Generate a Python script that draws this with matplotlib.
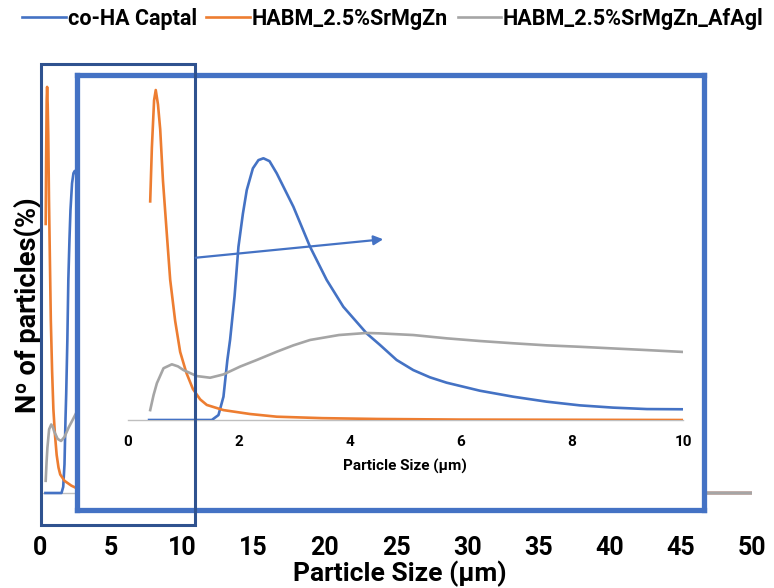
import matplotlib.pyplot as plt
from matplotlib.patches import Rectangle, FancyArrowPatch

# Particle size distributions (number %), size in µm
blue_x = [0.38, 1.0, 1.51, 1.63, 1.72, 1.79, 1.84, 1.92, 1.99, 2.07, 2.14, 2.25, 2.35, 2.44,
          2.55, 2.68, 2.98, 3.28, 3.58, 3.88, 4.30, 4.54, 4.84, 5.14, 5.44, 5.74, 6.34,
          6.94, 7.54, 8.14, 8.74, 9.35, 10.0, 15.0, 20.0, 30.0, 50.0]
blue_y = [0.0, 0.0, 0.0, 0.24, 1.13, 2.9, 3.9, 6.0, 8.4, 10.0, 11.15, 12.2, 12.6, 12.69,
          12.55, 11.96, 10.34, 8.40, 6.79, 5.49, 4.20, 3.64, 2.91, 2.42, 2.07, 1.81, 1.42,
          1.13, 0.89, 0.71, 0.60, 0.53, 0.52, 0.2, 0.05, 0.0, 0.0]

orange_x = [0.40, 0.43, 0.47, 0.50, 0.54, 0.58, 0.63, 0.70, 0.76, 0.85, 0.94, 1.05, 1.17,
            1.30, 1.42, 1.72, 2.2, 2.68, 3.5, 4.5, 6.0, 8.0, 10.0, 20.0, 50.0]
orange_y = [10.6, 13.2, 15.5, 16.0, 15.3, 14.1, 11.6, 9.0, 6.8, 4.8, 3.3, 2.3, 1.5,
            1.0, 0.73, 0.48, 0.29, 0.16, 0.09, 0.05, 0.02, 0.01, 0.0, 0.0, 0.0]

gray_x = [0.40, 0.46, 0.52, 0.64, 0.79, 0.90, 1.00, 1.24, 1.48, 1.72, 2.02, 2.32, 2.68,
          2.98, 3.28, 3.8, 4.3, 4.54, 5.14, 5.74, 6.34, 6.94, 7.54, 8.14, 8.74, 9.35, 10.0,
          15.0, 25.0, 35.0, 45.0, 50.0]
gray_y = [0.48, 1.2, 1.78, 2.51, 2.70, 2.6, 2.42, 2.13, 2.05, 2.21, 2.59, 2.91, 3.31,
          3.62, 3.88, 4.12, 4.22, 4.20, 4.12, 3.96, 3.83, 3.72, 3.62, 3.55, 3.47, 3.39, 3.30,
          2.5, 1.2, 0.4, 0.0, 0.0]

series = [
    ("co-HA Captal", blue_x, blue_y, "#4472C4"),
    ("HABM_2.5%SrMgZn", orange_x, orange_y, "#ED7D31"),
    ("HABM_2.5%SrMgZn_AfAgl", gray_x, gray_y, "#A5A5A5"),
]

main_ticks = [0, 5, 10, 15, 20, 25, 30, 35, 40, 45, 50]
inset_ticks = [0, 2, 4, 6, 8, 10]

font = ["Roboto", "DejaVu Sans"]
W, H = 774, 588


def fx(px):
    return px / W


def fy(py):
    return 1 - py / H


fig = plt.figure(figsize=(W / 100, H / 100), dpi=100)

# main chart
ax = fig.add_axes([fx(40), fy(530), fx(752) - fx(40), fy(60) - fy(530)])
for name, x, y, c in series:
    ax.plot(x, y, color=c, lw=1.9, label=name)
ax.axhline(0, color="#BFBFBF", lw=1, zorder=0)
ax.set_xlim(0, 50)
ax.set_ylim(-1.458, 17.06)
ax.set_xticks(main_ticks)
ax.set_xticklabels([str(t) for t in main_ticks], family=font, fontweight="bold", fontsize=18)
ax.tick_params(axis="x", length=0, pad=4)
ax.set_yticks([])
for s in ax.spines.values():
    s.set_visible(False)

fig.text(fx(400), fy(574), "Particle Size (µm)", ha="center", va="center",
         family=font, fontweight="bold", fontsize=19)
fig.text(fx(28), fy(305), "Nº of particles(%)", ha="center", va="center", rotation=90,
         family=font, fontweight="bold", fontsize=19.5)

fig.legend(loc="upper left", bbox_to_anchor=(0.004, 1.02), ncol=3, frameon=False,
           prop={"family": font, "weight": "bold", "size": 15.5},
           handlelength=2.0, handletextpad=0.1, columnspacing=0.45)

# framed zoom of the 0-10 µm range
frame = fig.add_axes([fx(77), fy(510), fx(704) - fx(77), fy(75) - fy(510)])
frame.set_xticks([])
frame.set_yticks([])
frame.set_facecolor("white")
for s in frame.spines.values():
    s.set_color("#4472C4")
    s.set_linewidth(3.8)

ins = fig.add_axes([fx(128), fy(420), fx(683) - fx(128), fy(79.7) - fy(420)])
ins.patch.set_alpha(0)
for name, x, y, c in series:
    ins.plot(x, y, color=c, lw=1.9)
ins.set_xlim(0, 10)
ins.set_ylim(0, 16.5)
ins.set_xticks(inset_ticks)
ins.set_xticklabels([str(t) for t in inset_ticks], family=font, fontweight="bold", fontsize=11)
ins.tick_params(axis="x", length=0, pad=11)
ins.set_yticks([])
for k, s in ins.spines.items():
    s.set_visible(k == "bottom")
ins.spines["bottom"].set_color("#BFBFBF")
ins.spines["bottom"].set_linewidth(1)
ins.spines["bottom"].set_zorder(0)
fig.text(fx(405), fy(466), "Particle Size (µm)", ha="center", va="center",
         family=font, fontweight="bold", fontsize=11)

# selection box and pointer
box = Rectangle((fx(41), fy(525)), fx(195) - fx(41), fy(64) - fy(525), transform=fig.transFigure,
                fill=False, edgecolor="#2F528F", lw=2.2, zorder=10)
fig.add_artist(box)
arrow = FancyArrowPatch((fx(193), fy(258)), (fx(386), fy(239)), transform=fig.transFigure,
                        arrowstyle="-|>", mutation_scale=14, color="#4472C4", lw=1.6, zorder=11)
fig.add_artist(arrow)

fig.savefig("out.png", dpi=100)
